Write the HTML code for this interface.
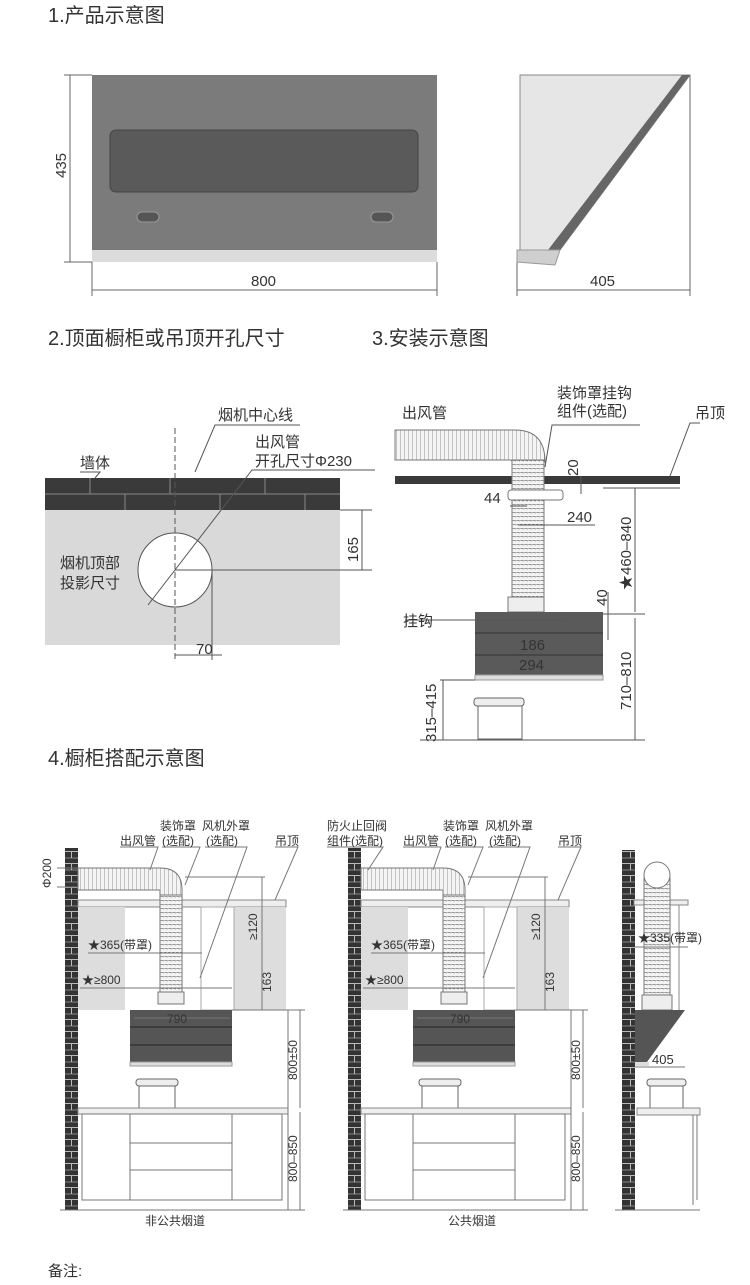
<!DOCTYPE html>
<html><head><meta charset="utf-8"><style>
html,body{margin:0;padding:0;background:#fff}
svg{display:block}
text{font-family:"Liberation Sans","Noto Sans CJK SC",sans-serif;fill:#333}
</style></head><body>
<svg width="750" height="1285" viewBox="0 0 750 1285" xmlns="http://www.w3.org/2000/svg">
<defs>
<pattern id="hv" width="4" height="4" patternUnits="userSpaceOnUse"><rect width="4" height="4" fill="#f4f4f4"/><line x1="0" y1="0" x2="0" y2="4" stroke="#777" stroke-width="0.8"/></pattern>
<pattern id="hh" width="4" height="4" patternUnits="userSpaceOnUse"><rect width="4" height="4" fill="#f4f4f4"/><line x1="0" y1="0" x2="4" y2="1" stroke="#777" stroke-width="0.8"/></pattern>
<pattern id="brick" width="13" height="12" patternUnits="userSpaceOnUse"><rect width="13" height="12" fill="#333"/><line x1="0" y1="11.5" x2="13" y2="11.5" stroke="#bbb" stroke-width="1"/><line x1="6.5" y1="0" x2="6.5" y2="6" stroke="#bbb" stroke-width="1"/><line x1="0" y1="6" x2="13" y2="6" stroke="#bbb" stroke-width="0.6"/></pattern>
</defs>
<g font-size="20">
<text x="48" y="22">1.产品示意图</text>
<text x="48" y="345">2.顶面橱柜或吊顶开孔尺寸</text>
<text x="372" y="345">3.安装示意图</text>
<text x="48" y="765">4.橱柜搭配示意图</text>
</g>
<!-- section1 front -->
<rect x="92" y="75" width="345" height="175" fill="#7b7b7b"/>
<rect x="92" y="250" width="345" height="12" fill="#dcdcdc"/>
<rect x="110" y="130" width="308" height="62" rx="6" fill="#5a5a5a" stroke="#444"/>
<rect x="137" y="212" width="22" height="10" rx="5" fill="#555" stroke="#999"/>
<rect x="371" y="212" width="22" height="10" rx="5" fill="#555" stroke="#999"/>
<g stroke="#666" stroke-width="1" fill="none">
<line x1="70" y1="75" x2="70" y2="262"/><line x1="64" y1="75" x2="92" y2="75"/><line x1="64" y1="262" x2="92" y2="262"/>
<line x1="92" y1="290" x2="437" y2="290"/><line x1="92" y1="262" x2="92" y2="296"/><line x1="437" y1="262" x2="437" y2="296"/>
<line x1="517" y1="290" x2="690" y2="290"/><line x1="517" y1="262" x2="517" y2="296"/><line x1="690" y1="75" x2="690" y2="296"/>
</g>
<text x="0" y="0" font-size="15" transform="translate(66,178) rotate(-90)">435</text>
<text x="251" y="286" font-size="15">800</text>
<text x="590" y="286" font-size="15">405</text>
<!-- side -->
<polygon points="520,75 690,75 560,250 520,250" fill="#e6e6e6" stroke="#888"/>
<polygon points="682,75 690,75 560,250 548,250" fill="#666"/>
<polygon points="517,250 560,250 555,265 517,262" fill="#cfcfcf" stroke="#999"/>
<!-- section2 -->
<rect x="45" y="510" width="295" height="135" fill="#d9d9d9"/>
<rect x="45" y="478" width="295" height="32" fill="#3a3a3a"/>
<g stroke="#888" stroke-width="1">
<line x1="45" y1="494" x2="340" y2="494"/>
<line x1="90" y1="478" x2="90" y2="494"/><line x1="170" y1="478" x2="170" y2="494"/><line x1="265" y1="478" x2="265" y2="494"/>
<line x1="125" y1="494" x2="125" y2="510"/><line x1="220" y1="494" x2="220" y2="510"/><line x1="305" y1="494" x2="305" y2="510"/>
</g>
<circle cx="175" cy="570" r="37" fill="#fff" stroke="#555"/>
<g stroke="#555" stroke-width="1" fill="none">
<line x1="175" y1="428" x2="175" y2="660" stroke-dasharray="6,3"/>
<line x1="212" y1="570" x2="212" y2="660"/>
<line x1="175" y1="655" x2="222" y2="655"/>
<line x1="175" y1="570" x2="372" y2="570"/><line x1="340" y1="510" x2="372" y2="510"/>
<line x1="362" y1="510" x2="362" y2="570"/>
<polyline points="80,472 100,472 95,478"/>
<polyline points="300,425 215,425 195,472"/>
<polyline points="375,470 252,470 148,605"/>
</g>
<g font-size="15">
<text x="80" y="468">墙体</text>
<text x="218" y="420">烟机中心线</text>
<text x="255" y="447">出风管</text>
<text x="255" y="466">开孔尺寸Φ230</text>
<text x="60" y="568">烟机顶部</text>
<text x="60" y="588">投影尺寸</text>
<text x="196" y="654">70</text>
<text transform="translate(358,562) rotate(-90)">165</text>
</g>
<!-- section3 -->
<rect x="395" y="476" width="285" height="8" fill="#3a3a3a"/>
<path d="M395,430 H515 Q545,430 545,462 H512 Q512,460 510,460 H395Z" fill="url(#hv)" stroke="#777"/>
<rect x="512" y="460" width="32" height="137" fill="url(#hh)" stroke="#777"/>
<rect x="508" y="490" width="55" height="10" rx="3" fill="#fff" stroke="#777"/>
<rect x="508" y="597" width="36" height="15" fill="#eee" stroke="#777"/>
<rect x="475" y="612" width="128" height="63" fill="#5a5a5a"/>
<line x1="475" y1="633" x2="603" y2="633" stroke="#333"/><line x1="475" y1="655" x2="603" y2="655" stroke="#333"/>
<rect x="475" y="675" width="128" height="5" fill="#ddd" stroke="#999"/>
<rect x="478" y="703" width="44" height="36" fill="#fff" stroke="#666"/>
<rect x="474" y="698" width="50" height="8" rx="3" fill="#eee" stroke="#666"/>
<g stroke="#555" fill="none">
<line x1="420" y1="740" x2="645" y2="740"/>
<line x1="635" y1="488" x2="635" y2="612"/><line x1="603" y1="488" x2="680" y2="488"/>
<line x1="635" y1="618" x2="635" y2="740"/><line x1="603" y1="614" x2="645" y2="614"/>
<line x1="608" y1="592" x2="608" y2="640"/>
<line x1="443" y1="680" x2="443" y2="740"/><line x1="440" y1="680" x2="475" y2="680"/>
<line x1="581" y1="476" x2="581" y2="494"/>
<line x1="510" y1="506" x2="527" y2="506"/>
<line x1="518" y1="525" x2="595" y2="525"/>
<line x1="506" y1="620" x2="566" y2="620"/>
<line x1="515" y1="652" x2="541" y2="652"/><line x1="512" y1="672" x2="558" y2="672"/>
<polyline points="405,620 515,620"/>
<polyline points="545,467 552,425 640,425"/>
<polyline points="670,476 690,423 700,423"/>
</g>
<g font-size="15">
<text x="402" y="418">出风管</text>
<text x="557" y="398">装饰罩挂钩</text>
<text x="557" y="416">组件(选配)</text>
<text x="695" y="418">吊顶</text>
<text x="484" y="503">44</text>
<text x="567" y="522">240</text>
<text x="403" y="626">挂钩</text>
<text x="520" y="650">186</text>
<text x="519" y="670">294</text>
<text transform="translate(578,476) rotate(-90)">20</text>
<text transform="translate(631,590) rotate(-90)">★460–840</text>
<text transform="translate(607,606) rotate(-90)">40</text>
<text transform="translate(631,710) rotate(-90)">710–810</text>
<text transform="translate(436,742) rotate(-90)">315–415</text>
</g>
<!-- section4 diagram1 & 2 -->
<g id="d1">
<rect x="65" y="848" width="13" height="362" fill="url(#brick)"/>
<rect x="78" y="900" width="208" height="7" fill="#eee" stroke="#888"/>
<rect x="78" y="907" width="47" height="103" fill="#ddd"/>
<rect x="234" y="907" width="52" height="103" fill="#ddd"/>
<rect x="201" y="907" width="33" height="103" fill="#fff" stroke="#aaa"/>
<path d="M78,868 H160 Q182,868 182,890 V900 H160 V890 H78Z" fill="url(#hv)" stroke="#777"/>
<rect x="160" y="895" width="22" height="97" fill="url(#hh)" stroke="#777"/>
<rect x="158" y="992" width="26" height="12" fill="#eee" stroke="#777"/>
<rect x="130" y="1010" width="102" height="52" fill="#555"/>
<line x1="130" y1="1027" x2="232" y2="1027" stroke="#222"/><line x1="130" y1="1045" x2="232" y2="1045" stroke="#222"/>
<rect x="130" y="1062" width="102" height="4" fill="#ddd" stroke="#999"/>
<rect x="139" y="1083" width="36" height="25" fill="#fff" stroke="#666"/>
<rect x="136" y="1079" width="42" height="7" rx="3" fill="#eee" stroke="#666"/>
<rect x="78" y="1108" width="210" height="6" fill="#eee" stroke="#888"/>
<g stroke="#777" fill="none">
<rect x="82" y="1114" width="200" height="86"/>
<line x1="130" y1="1114" x2="130" y2="1200"/><line x1="232" y1="1114" x2="232" y2="1200"/>
<line x1="130" y1="1143" x2="232" y2="1143"/><line x1="130" y1="1170" x2="232" y2="1170"/>
<line x1="60" y1="1210" x2="305" y2="1210"/>
<line x1="262" y1="877" x2="262" y2="1010"/>
<line x1="57" y1="868" x2="78" y2="868"/><line x1="57" y1="887" x2="78" y2="887"/>
<line x1="288" y1="1010" x2="288" y2="1210"/><line x1="300" y1="1010" x2="300" y2="1108"/><line x1="300" y1="1112" x2="300" y2="1210"/>
<line x1="232" y1="1010" x2="305" y2="1010"/>
<line x1="88" y1="953" x2="202" y2="953"/>
<line x1="80" y1="988" x2="232" y2="988"/>
<line x1="134" y1="1018" x2="230" y2="1018"/>
<line x1="185" y1="877" x2="265" y2="877"/>
<polyline points="120,847 158,847 150,870"/>
<polyline points="162,847 200,847 185,885"/>
<polyline points="205,847 247,847 200,978"/>
<polyline points="275,847 298,847 275,900"/>
</g>
<g font-size="12">
<text x="120" y="845">出风管</text>
<text x="160" y="830">装饰罩</text>
<text x="162" y="845">(选配)</text>
<text x="202" y="830">风机外罩</text>
<text x="206" y="845">(选配)</text>
<text x="275" y="845">吊顶</text>
<text x="88" y="949">★365(带罩)</text>
<text x="82" y="984">★≥800</text>
<text x="167" y="1023">790</text>
<text transform="translate(51,888) rotate(-90)">Φ200</text>
<text transform="translate(257,940) rotate(-90)">≥120</text>
<text transform="translate(271,992) rotate(-90)">163</text>
<text transform="translate(297,1080) rotate(-90)">800±50</text>
<text transform="translate(297,1182) rotate(-90)">800–850</text>
<text x="145" y="1225">非公共烟道</text>
</g>
</g>
<g transform="translate(283,0)">
<rect x="65" y="848" width="13" height="362" fill="url(#brick)"/>
<rect x="78" y="900" width="208" height="7" fill="#eee" stroke="#888"/>
<rect x="78" y="907" width="47" height="103" fill="#ddd"/>
<rect x="234" y="907" width="52" height="103" fill="#ddd"/>
<rect x="201" y="907" width="33" height="103" fill="#fff" stroke="#aaa"/>
<path d="M78,868 H160 Q182,868 182,890 V900 H160 V890 H78Z" fill="url(#hv)" stroke="#777"/>
<rect x="160" y="895" width="22" height="97" fill="url(#hh)" stroke="#777"/>
<rect x="158" y="992" width="26" height="12" fill="#eee" stroke="#777"/>
<rect x="130" y="1010" width="102" height="52" fill="#555"/>
<line x1="130" y1="1027" x2="232" y2="1027" stroke="#222"/><line x1="130" y1="1045" x2="232" y2="1045" stroke="#222"/>
<rect x="130" y="1062" width="102" height="4" fill="#ddd" stroke="#999"/>
<rect x="139" y="1083" width="36" height="25" fill="#fff" stroke="#666"/>
<rect x="136" y="1079" width="42" height="7" rx="3" fill="#eee" stroke="#666"/>
<rect x="78" y="1108" width="210" height="6" fill="#eee" stroke="#888"/>
<g stroke="#777" fill="none">
<rect x="82" y="1114" width="200" height="86"/>
<line x1="130" y1="1114" x2="130" y2="1200"/><line x1="232" y1="1114" x2="232" y2="1200"/>
<line x1="130" y1="1143" x2="232" y2="1143"/><line x1="130" y1="1170" x2="232" y2="1170"/>
<line x1="60" y1="1210" x2="305" y2="1210"/>
<line x1="262" y1="877" x2="262" y2="1010"/>
<line x1="288" y1="1010" x2="288" y2="1210"/><line x1="300" y1="1010" x2="300" y2="1108"/><line x1="300" y1="1112" x2="300" y2="1210"/>
<line x1="232" y1="1010" x2="305" y2="1010"/>
<line x1="88" y1="953" x2="202" y2="953"/>
<line x1="80" y1="988" x2="232" y2="988"/>
<line x1="134" y1="1018" x2="230" y2="1018"/>
<line x1="185" y1="877" x2="265" y2="877"/>
<polyline points="44,847 100,847 85,870"/>
<polyline points="120,847 158,847 150,870"/>
<polyline points="162,847 200,847 185,885"/>
<polyline points="205,847 247,847 200,978"/>
<polyline points="275,847 298,847 275,900"/>
</g>
<g font-size="12">
<text x="44" y="830">防火止回阀</text>
<text x="44" y="845">组件(选配)</text>
<text x="120" y="845">出风管</text>
<text x="160" y="830">装饰罩</text>
<text x="162" y="845">(选配)</text>
<text x="202" y="830">风机外罩</text>
<text x="206" y="845">(选配)</text>
<text x="275" y="845">吊顶</text>
<text x="88" y="949">★365(带罩)</text>
<text x="82" y="984">★≥800</text>
<text x="167" y="1023">790</text>
<text transform="translate(257,940) rotate(-90)">≥120</text>
<text transform="translate(271,992) rotate(-90)">163</text>
<text transform="translate(297,1080) rotate(-90)">800±50</text>
<text transform="translate(297,1182) rotate(-90)">800–850</text>
<text x="165" y="1225">公共烟道</text>
</g>
</g>
<!-- diagram3 -->
<rect x="622" y="850" width="13" height="360" fill="url(#brick)"/>
<rect x="634" y="900" width="54" height="5" fill="#eee" stroke="#888"/>
<line x1="679" y1="905" x2="679" y2="1010" stroke="#888"/>
<rect x="644" y="878" width="26" height="117" fill="url(#hh)" stroke="#777"/>
<circle cx="657" cy="875" r="13" fill="#fff" stroke="#777"/>
<rect x="642" y="995" width="30" height="15" fill="#eee" stroke="#777"/>
<polygon points="635,1010 685,1010 685,1062 647,1062 635,1062" fill="#555"/>
<polygon points="685,1010 685,1062 647,1062" fill="#fff"/>
<rect x="635" y="1062" width="14" height="4" fill="#ddd"/>
<rect x="650" y="1083" width="33" height="25" fill="#fff" stroke="#666"/>
<rect x="647" y="1079" width="39" height="7" rx="3" fill="#eee" stroke="#666"/>
<rect x="637" y="1108" width="63" height="7" fill="#eee" stroke="#888"/>
<g stroke="#777" fill="none">
<line x1="697" y1="1115" x2="697" y2="1200"/><line x1="693" y1="1115" x2="693" y2="1205"/>
<line x1="615" y1="1210" x2="700" y2="1210"/>
<line x1="635" y1="947" x2="688" y2="947"/>
<line x1="635" y1="1067" x2="685" y2="1067"/>
</g>
<text x="638" y="942" font-size="12">★335(带罩)</text>
<text x="652" y="1064" font-size="13">405</text>
<text x="48" y="1276" font-size="15">备注:</text>
</svg>
</body></html>
